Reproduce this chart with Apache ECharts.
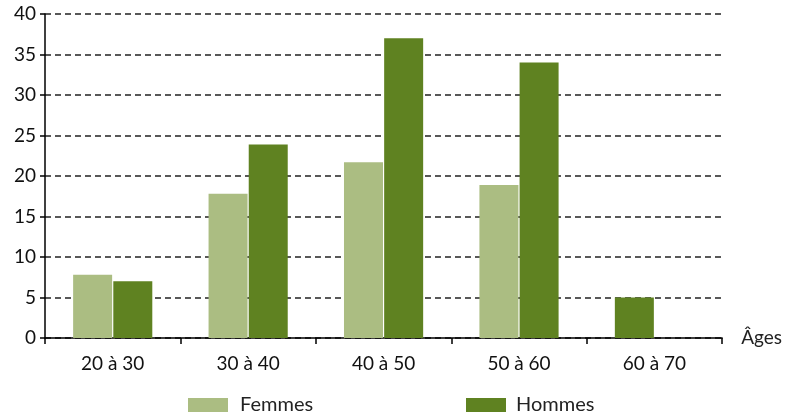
<!DOCTYPE html>
<html>
<head>
<meta charset="utf-8">
<script src="https://cdn.jsdelivr.net/npm/echarts@6/dist/echarts.min.js"></script>
<style>html,body{margin:0;padding:0;background:#fff;}#c{width:785px;height:416px;}</style>
</head>
<body>
<div id="c"></div>
<script>
var categories = ['20 à 30', '30 à 40', '40 à 50', '50 à 60', '60 à 70'];
var femmes = [7.8, 17.8, 21.7, 18.9, null];
var hommes = [7.0, 23.9, 37.0, 34.0, 5.0];
var yTicks = [0, 5, 10, 15, 20, 25, 30, 35, 40];

var colF = '#abbd82';
var colH = '#5f8221';
var font = 'Lato';

// In the reference, the lone 60-70 "Hommes" bar sits in the left slot of its group.
var femData = femmes.map(function (v, i) {
  if (v === null && hommes[i] !== null) {
    return { value: hommes[i], itemStyle: { color: colH } };
  }
  return v;
});
var homData = hommes.map(function (v, i) {
  return femmes[i] === null ? null : v;
});

var chart = echarts.init(document.getElementById('c'));
chart.setOption({
  animation: false,
  textStyle: { fontFamily: font },
  grid: { left: 45, right: 62, top: 14, bottom: 78, containLabel: false },
  legend: [{
    data: ['Femmes'], left: 188, top: 395, padding: 0, itemWidth: 40, itemHeight: 14, icon: 'rect',
    textStyle: { fontFamily: font, fontSize: 20, color: '#222', padding: [0, 0, 0, 7] }, itemGap: 10
  }, {
    data: ['Hommes'], left: 466, top: 395, padding: 0, itemWidth: 40, itemHeight: 14, icon: 'rect',
    textStyle: { fontFamily: font, fontSize: 20, color: '#222', padding: [0, 0, 0, 5] }, itemGap: 10
  }],
  xAxis: {
    type: 'category',
    data: categories,
    name: 'Âges',
    nameLocation: 'end',
    nameGap: 19,
    nameTextStyle: { fontFamily: font, fontSize: 19, color: '#222', verticalAlign: 'middle', padding: [12, 0, 0, 0] },
    axisLine: { lineStyle: { color: '#000', width: 1.5 } },
    axisTick: { show: true, length: 6, lineStyle: { color: '#000', width: 1.5 } },
    axisLabel: { fontFamily: font, fontSize: 19, color: '#111', margin: 16 },
    splitLine: { show: false }
  },
  yAxis: {
    type: 'value',
    min: yTicks[0],
    max: yTicks[yTicks.length - 1],
    interval: 5,
    axisLine: { show: true, lineStyle: { color: '#000', width: 1.5 } },
    axisTick: { show: true, length: 5, lineStyle: { color: '#000', width: 1.5 } },
    axisLabel: { fontFamily: font, fontSize: 19, color: '#111', margin: 9 },
    splitLine: { show: true, lineStyle: { color: '#222', width: 1.5, type: [6, 4] } }
  },
  series: [{
    name: 'Femmes', type: 'bar', data: femData, barWidth: 39, barGap: '3%',
    itemStyle: { color: colF }, z: 3
  }, {
    name: 'Hommes', type: 'bar', data: homData, barWidth: 39,
    itemStyle: { color: colH }, z: 3
  }]
});
</script>
</body>
</html>
